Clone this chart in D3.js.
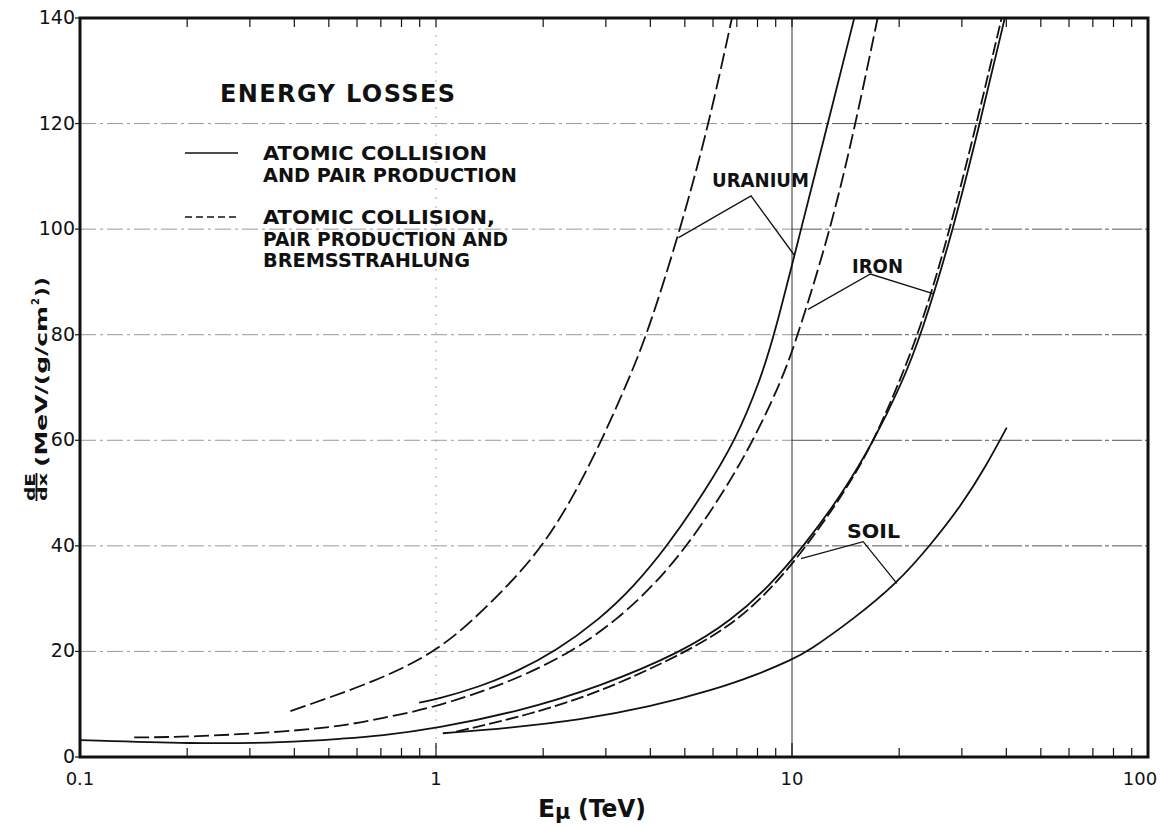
<!DOCTYPE html>
<html>
<head>
<meta charset="utf-8">
<script src="https://cdn.jsdelivr.net/npm/d3@7"></script>
<style>
  body { margin: 0; background: #fff; }
  text { font-family: "DejaVu Sans", sans-serif; fill: #111; }
</style>
</head>
<body>
<div id="chart"></div>
<script>
// curves: muon energy (TeV) and dE/dx (MeV/(g/cm2))
var uraniumBremE    = [0.39, 0.697, 1.0, 1.27, 1.6, 2.0, 2.45, 2.92, 3.4, 3.92, 4.86, 5.85, 6.78];
var uraniumBremLoss = [8.7, 14.6, 20, 25.9, 32.6, 40, 49.7, 60, 70, 80, 100, 120, 140];

var uraniumPairE    = [0.897, 1.0, 1.33, 1.7, 2.16, 2.86, 3.6, 4.47, 5.65, 6.95, 8.15, 8.93, 10.6, 12.61, 14.96];
var uraniumPairLoss = [10.3, 10.9, 13.3, 16.3, 20, 25.9, 32.3, 40, 50, 60, 71.5, 80, 100, 120, 140];

var ironBremE    = [0.142, 0.206, 0.38, 0.55, 0.697, 1.0, 1.65, 2.42, 3.21, 4.1, 5.08, 6.4, 7.8, 9.38, 10.4, 12.85, 15.1, 17.4];
var ironBremLoss = [3.7, 3.8, 4.8, 5.9, 7.3, 9.4, 14.4, 20, 25.9, 32.6, 40, 50, 60, 71.5, 80, 100, 120, 140];

var ironPairE    = [0.1, 0.206, 0.38, 0.55, 0.697, 1.0, 1.7, 2.88, 4.95, 6.77, 8.7, 10.8, 13.9, 17.0, 20.1, 23.1, 28.4, 33.7, 39.6];
var ironPairLoss = [3.2, 2.5, 2.7, 3.5, 4.0, 5.4, 8.6, 13.3, 20, 25.9, 32.6, 40, 50, 60, 70, 80, 100, 120, 140];

var soilBremE    = [1.14, 1.8, 2.88, 5.11, 7.07, 9.0, 11.0, 14.0, 17.1, 22.8, 27.8, 33.0, 38.8];
var soilBremLoss = [4.8, 7.9, 12.2, 20, 25.9, 32.8, 40, 50, 60, 80, 100, 120, 140];

var soilPairE    = [1.045, 1.6, 2.54, 4.0, 6.01, 8.0, 10, 11.1, 15, 19.7, 24.4, 30, 35, 40.1];
var soilPairLoss = [4.5, 5.5, 7.0, 9.5, 12.7, 15.6, 18.5, 20, 26.3, 32.9, 40, 47.8, 55, 62.4];

// leader lines from the material labels to their curves
var uraniumLeader = [[4.8, 98.4], [7.67, 106.3], [10.14, 95.1]];
var ironLeader    = [[11.1, 84.8], [16.6, 91.5], [24.9, 87.8]];
var soilLeader    = [[10.6, 37.6], [15.85, 40.8], [19.7, 32.9]];

var yTicks = [0, 20, 40, 60, 80, 100, 120, 140];
var gridY = [20, 40, 60, 80, 100, 120];
var xTickLabels = [0.1, 1, 10, 100];

var width = 1162, height = 827;
var x = d3.scaleLog().domain([0.1, 100]).range([80, 1148]);
var y = d3.scaleLinear().domain([0, 140]).range([757, 18]);

var svg = d3.select("#chart").append("svg")
  .attr("width", width)
  .attr("height", height);

// horizontal grid, faint dash-dot on the left, darker on the right
svg.selectAll(".gridL").data(gridY).enter().append("line")
  .attr("x1", x(0.1)).attr("x2", x(10))
  .attr("y1", d => y(d)).attr("y2", d => y(d))
  .attr("stroke", "#999").attr("stroke-width", 1)
  .attr("stroke-dasharray", "16,4,3,4");
svg.selectAll(".gridR").data(gridY).enter().append("line")
  .attr("x1", x(10)).attr("x2", x(100))
  .attr("y1", d => y(d)).attr("y2", d => y(d))
  .attr("stroke", "#555").attr("stroke-width", 1)
  .attr("stroke-dasharray", "30,3,4,3");

// vertical guides at 1 (faint) and 10 (solid)
svg.append("line")
  .attr("x1", x(1)).attr("x2", x(1)).attr("y1", y(0)).attr("y2", y(140))
  .attr("stroke", "#aaa").attr("stroke-width", 1).attr("stroke-dasharray", "2,7");
svg.append("line")
  .attr("x1", x(10)).attr("x2", x(10)).attr("y1", y(0)).attr("y2", y(140))
  .attr("stroke", "#333").attr("stroke-width", 1);

// minor ticks top and bottom, pointing inwards
var xt = x.ticks().filter(d => d > 0.1 && d < 100);
svg.selectAll(".tb").data(xt).enter().append("line")
  .attr("x1", d => x(d)).attr("x2", d => x(d))
  .attr("y1", y(0)).attr("y2", d => y(0) - (Math.abs(Math.log10(d) % 1) < 1e-6 ? 14 : 9))
  .attr("stroke", "#111").attr("stroke-width", 1.2);
svg.selectAll(".tt").data(xt).enter().append("line")
  .attr("x1", d => x(d)).attr("x2", d => x(d))
  .attr("y1", y(140)).attr("y2", y(140) + 9)
  .attr("stroke", "#111").attr("stroke-width", 1.2);

// y ticks outwards
svg.selectAll(".ty").data(yTicks).enter().append("line")
  .attr("x1", x(0.1) - 5).attr("x2", x(0.1))
  .attr("y1", d => y(d)).attr("y2", d => y(d))
  .attr("stroke", "#111").attr("stroke-width", 1.2);

// frame
svg.append("rect")
  .attr("x", x(0.1)).attr("y", y(140))
  .attr("width", x(100) - x(0.1)).attr("height", y(0) - y(140))
  .attr("fill", "none").attr("stroke", "#111").attr("stroke-width", 3);

// tick labels
svg.selectAll(".yl").data(yTicks).enter().append("text")
  .attr("x", 75).attr("y", d => y(d) + 6)
  .attr("text-anchor", "end")
  .style("font-size", "19px")
  .text(d => d);
svg.selectAll(".xl").data(xTickLabels).enter().append("text")
  .attr("x", d => x(d) - (d === 100 ? 8 : 0)).attr("y", 785)
  .attr("text-anchor", "middle")
  .style("font-size", "18px")
  .text(d => d);

// curves, smoothed with a B-spline through the read points
var line = d3.line()
  .x(d => x(d[0]))
  .y(d => y(d[1]))
  .curve(d3.curveBasis);

function zipCurve(e, v) {
  return e.map((d, i) => [d, v[i]]);
}

var curves = [
  { pts: zipCurve(uraniumBremE, uraniumBremLoss), dash: "16,5" },
  { pts: zipCurve(uraniumPairE, uraniumPairLoss), dash: null },
  { pts: zipCurve(ironBremE, ironBremLoss), dash: "15,5" },
  { pts: zipCurve(ironPairE, ironPairLoss), dash: null },
  { pts: zipCurve(soilBremE, soilBremLoss), dash: "13,4" },
  { pts: zipCurve(soilPairE, soilPairLoss), dash: null }
];

svg.selectAll(".curve").data(curves).enter().append("path")
  .attr("d", d => line(d.pts))
  .attr("fill", "none")
  .attr("stroke", "#111")
  .attr("stroke-width", 1.8)
  .attr("stroke-dasharray", d => d.dash);

// labels with leaders
var leaderLine = d3.line().x(d => x(d[0])).y(d => y(d[1]));
[uraniumLeader, ironLeader, soilLeader].forEach(function (l) {
  svg.append("path")
    .attr("d", leaderLine(l))
    .attr("fill", "none").attr("stroke", "#111").attr("stroke-width", 1.3);
});

var materialLabels = [
  { t: "URANIUM", x: 712, y: 187, w: 97 },
  { t: "IRON", x: 852, y: 273, w: 51 },
  { t: "SOIL", x: 847, y: 538, w: 53 }
];
svg.selectAll(".ml").data(materialLabels).enter().append("text")
  .attr("x", d => d.x).attr("y", d => d.y)
  .attr("textLength", d => d.w).attr("lengthAdjust", "spacingAndGlyphs")
  .style("font-size", "20px").style("font-weight", "bold")
  .text(d => d.t);

// legend
svg.append("text")
  .attr("x", 220).attr("y", 102)
  .attr("textLength", 235).attr("lengthAdjust", "spacing")
  .style("font-size", "24px").style("font-weight", "bold")
  .text("ENERGY  LOSSES");

svg.append("line")
  .attr("x1", 185).attr("x2", 238).attr("y1", 153).attr("y2", 153)
  .attr("stroke", "#111").attr("stroke-width", 1.7);
svg.append("line")
  .attr("x1", 185).attr("x2", 238).attr("y1", 217).attr("y2", 217)
  .attr("stroke", "#111").attr("stroke-width", 1.7).attr("stroke-dasharray", "7,4");

var legendText = [
  { t: "ATOMIC COLLISION", y: 160, w: 224 },
  { t: "AND PAIR PRODUCTION", y: 182, w: 254 },
  { t: "ATOMIC COLLISION,", y: 224, w: 232 },
  { t: "PAIR PRODUCTION AND", y: 246, w: 245 },
  { t: "BREMSSTRAHLUNG", y: 267, w: 207 }
];
svg.selectAll(".lt").data(legendText).enter().append("text")
  .attr("x", 263).attr("y", d => d.y)
  .attr("textLength", d => d.w).attr("lengthAdjust", "spacingAndGlyphs")
  .style("font-size", "19px").style("font-weight", "bold")
  .text(d => d.t);

// x axis title
svg.append("text").attr("x", 538).attr("y", 817)
  .style("font-size", "25px").style("font-weight", "bold").text("E");
svg.append("text").attr("x", 555).attr("y", 819)
  .style("font-size", "21px").style("font-weight", "bold").text("\u03bc");
svg.append("text").attr("x", 578).attr("y", 817)
  .attr("textLength", 68).attr("lengthAdjust", "spacingAndGlyphs")
  .style("font-size", "24px").style("font-weight", "bold").text("(TeV)");

// y axis title, rotated
var yt = svg.append("g").attr("transform", "translate(47,501) rotate(-90)");
yt.append("text").attr("x", 0).attr("y", -12.5)
  .attr("textLength", 28).attr("lengthAdjust", "spacingAndGlyphs")
  .style("font-size", "14px").style("font-weight", "bold").text("dE");
yt.append("line").attr("x1", 0).attr("x2", 28).attr("y1", -10.5).attr("y2", -10.5)
  .attr("stroke", "#111").attr("stroke-width", 1.8);
yt.append("text").attr("x", 0).attr("y", 0)
  .attr("textLength", 28).attr("lengthAdjust", "spacingAndGlyphs")
  .style("font-size", "13px").style("font-weight", "bold").text("dx");
yt.append("text").attr("x", 34).attr("y", 0)
  .attr("textLength", 161).attr("lengthAdjust", "spacingAndGlyphs")
  .style("font-size", "16px").style("font-weight", "bold").text("(MeV/(g/cm");
yt.append("text").attr("x", 196).attr("y", -8)
  .style("font-size", "10px").style("font-weight", "bold").text("2");
yt.append("text").attr("x", 204).attr("y", 0)
  .attr("textLength", 20).attr("lengthAdjust", "spacingAndGlyphs")
  .style("font-size", "16px").style("font-weight", "bold").text("))");
</script>
</body>
</html>
